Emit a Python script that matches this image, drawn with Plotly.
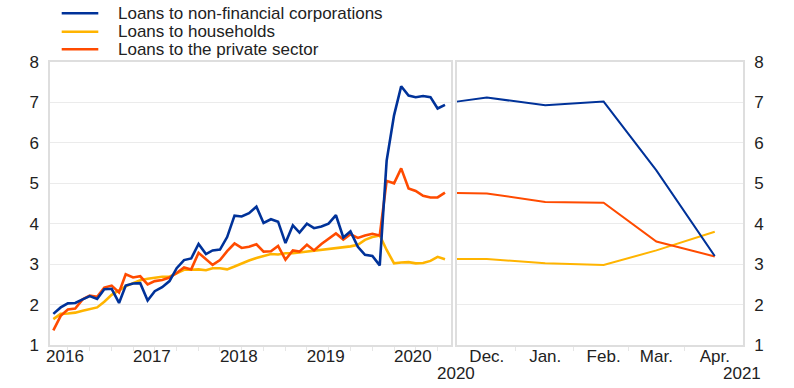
import pandas as pd
import plotly.graph_objects as go

# ---- data -------------------------------------------------------------
# Left panel: monthly, May 2016 - Nov 2020 (annual growth rates, %)
left_months = pd.date_range("2016-05-01", "2020-11-01", freq="MS")

nfc = [1.77, 1.93, 2.03, 2.04, 2.13, 2.21, 2.14, 2.38, 2.39, 2.04,
       2.47, 2.52, 2.53, 2.10, 2.33, 2.43, 2.58, 2.90, 3.10, 3.14,
       3.50, 3.25, 3.34, 3.36, 3.67, 4.20, 4.18, 4.26, 4.42, 4.02,
       4.11, 4.05, 3.52, 3.96, 3.78, 4.00, 3.89, 3.93, 4.00, 4.21,
       3.66, 3.81, 3.43, 3.23, 3.20, 2.97, 5.56, 6.68, 7.40, 7.17,
       7.13, 7.16, 7.13, 6.85, 6.94]

households = [1.64, 1.77, 1.78, 1.80, 1.85, 1.89, 1.93, 2.07, 2.24, 2.35,
              2.45, 2.53, 2.60, 2.64, 2.67, 2.69, 2.69, 2.78, 2.86, 2.86,
              2.87, 2.85, 2.90, 2.90, 2.87, 2.94, 3.02, 3.09, 3.15, 3.20,
              3.25, 3.24, 3.27, 3.27, 3.29, 3.31, 3.32, 3.34, 3.37, 3.39,
              3.41, 3.44, 3.48, 3.60, 3.67, 3.71, 3.35, 3.02, 3.04, 3.05,
              3.02, 3.03, 3.08, 3.18, 3.12]

private = [1.36, 1.72, 1.88, 1.90, 2.13, 2.22, 2.19, 2.42, 2.47, 2.30,
           2.75, 2.67, 2.70, 2.50, 2.58, 2.61, 2.67, 2.78, 2.92, 2.87,
           3.28, 3.12, 2.98, 3.10, 3.32, 3.51, 3.40, 3.43, 3.49, 3.31,
           3.32, 3.45, 3.11, 3.34, 3.31, 3.48, 3.34, 3.50, 3.63, 3.76,
           3.61, 3.74, 3.65, 3.71, 3.75, 3.71, 5.06, 5.00, 5.37, 4.87,
           4.81, 4.69, 4.65, 4.65, 4.77]

year_ticks = ["2016-06-19", "2017-06-19", "2018-06-19", "2019-06-19", "2020-06-19"]
year_labels = ["2016", "2017", "2018", "2019", "2020"]

# Right panel: latest months
right_dates = ["2020-11-15", "2020-12-01", "2021-01-01", "2021-02-01", "2021-03-01", "2021-04-01"]
nfc_r = [7.02, 7.12, 6.93, 7.02, 5.32, 3.20]
households_r = [3.13, 3.13, 3.02, 2.98, 3.34, 3.80]
private_r = [4.76, 4.75, 4.54, 4.52, 3.56, 3.19]

month_ticks = ["2020-12-01", "2021-01-01", "2021-02-01", "2021-03-01", "2021-04-01"]
month_labels = ["Dec.", "Jan.", "Feb.", "Mar.", "Apr."]
month_minor = ["2020-12-16", "2021-01-16", "2021-02-14", "2021-03-16"]

series_names = ["Loans to non-financial corporations", "Loans to households",
                "Loans to the private sector"]
colors = ["#003299", "#FFB400", "#FF4B00"]

# ---- figure -----------------------------------------------------------
FONT = "Liberation Sans, Arial, Helvetica, sans-serif"
FS = 17
TXT = "#222222"
GRID = "#ebebeb"
FRAME = "#dedede"

fig = go.Figure()
left_series = [nfc, households, private]
right_series = [nfc_r, households_r, private_r]
# draw order: households, private, nfc on top
for i in [1, 2, 0]:
    fig.add_trace(go.Scatter(x=left_months, y=left_series[i], mode="lines",
                             name=series_names[i], showlegend=False,
                             line=dict(color=colors[i], width=2.6),
                             xaxis="x", yaxis="y"))
for i in [1, 2, 0]:
    fig.add_trace(go.Scatter(x=right_dates, y=right_series[i], mode="lines",
                             name=series_names[i], showlegend=False,
                             line=dict(color=colors[i], width=2),
                             xaxis="x2", yaxis="y2"))

W, H = 794, 388
ML, MR, MT, MB = 50, 51, 62, 43
pw = W - ML - MR
ph = H - MT - MB

axis_common = dict(showline=True, mirror=True, linecolor=FRAME, linewidth=1.5,
                   zeroline=False, tickfont=dict(size=FS, color=TXT, family=FONT))

fig.update_layout(
    width=W, height=H,
    margin=dict(l=ML, r=MR, t=MT, b=MB),
    paper_bgcolor="white", plot_bgcolor="white",
    font=dict(family=FONT, size=FS, color=TXT),
    xaxis=dict(domain=[0, (450.7 - ML) / pw], range=["2016-04-17", "2020-11-25"],
               showgrid=False, tickmode="array", tickvals=year_ticks, ticktext=year_labels,
               ticks="", ticklabelstandoff=-5,
               minor=dict(ticks="outside", ticklen=4, tickcolor="#e6e6e6",
                          dtick="M3", tick0="2016-01-01", showgrid=False),
               **axis_common),
    yaxis=dict(range=[1, 8], dtick=1, showgrid=True, gridcolor=GRID, gridwidth=1,
               ticks="", ticklabelstandoff=6, **axis_common),
    xaxis2=dict(domain=[(456.7 - ML) / pw, 1], range=["2020-11-15", "2021-04-16"],
                anchor="y2", showgrid=False, tickmode="array", tickvals=month_ticks,
                ticktext=month_labels, ticks="", ticklabelstandoff=-5,
                minor=dict(ticks="outside", ticklen=4, tickcolor="#e6e6e6",
                           tickvals=month_minor, showgrid=False),
                **axis_common),
    yaxis2=dict(range=[1, 8], dtick=1, anchor="x2", side="right", showgrid=True,
                gridcolor=GRID, gridwidth=1, ticks="", ticklabelstandoff=6,
                **axis_common),
)

# year labels under the right panel
for label, px in [("2020", 456), ("2021", 742)]:
    fig.add_annotation(text=label, xref="paper", yref="paper",
                       x=(px - ML) / pw, y=(H - MB - 373) / ph,
                       xanchor="center", yanchor="middle", showarrow=False,
                       font=dict(size=FS, color=TXT, family=FONT))

# manual legend
for i, py in enumerate([13.3, 31.7, 49.3]):
    yp = (H - MB - py) / ph
    fig.add_shape(type="line", xref="paper", yref="paper",
                  x0=(61.7 - ML) / pw, x1=(98.3 - ML) / pw, y0=yp, y1=yp,
                  line=dict(color=colors[i], width=2.5))
    fig.add_annotation(text=series_names[i], xref="paper", yref="paper",
                       x=(116 - ML) / pw, y=yp, xanchor="left", yanchor="middle",
                       showarrow=False, font=dict(size=FS, color=TXT, family=FONT))

fig.write_html("out.html",
               config={"displayModeBar": False},
               post_script="document.body.style.margin='0px';document.body.style.overflow='hidden';")
